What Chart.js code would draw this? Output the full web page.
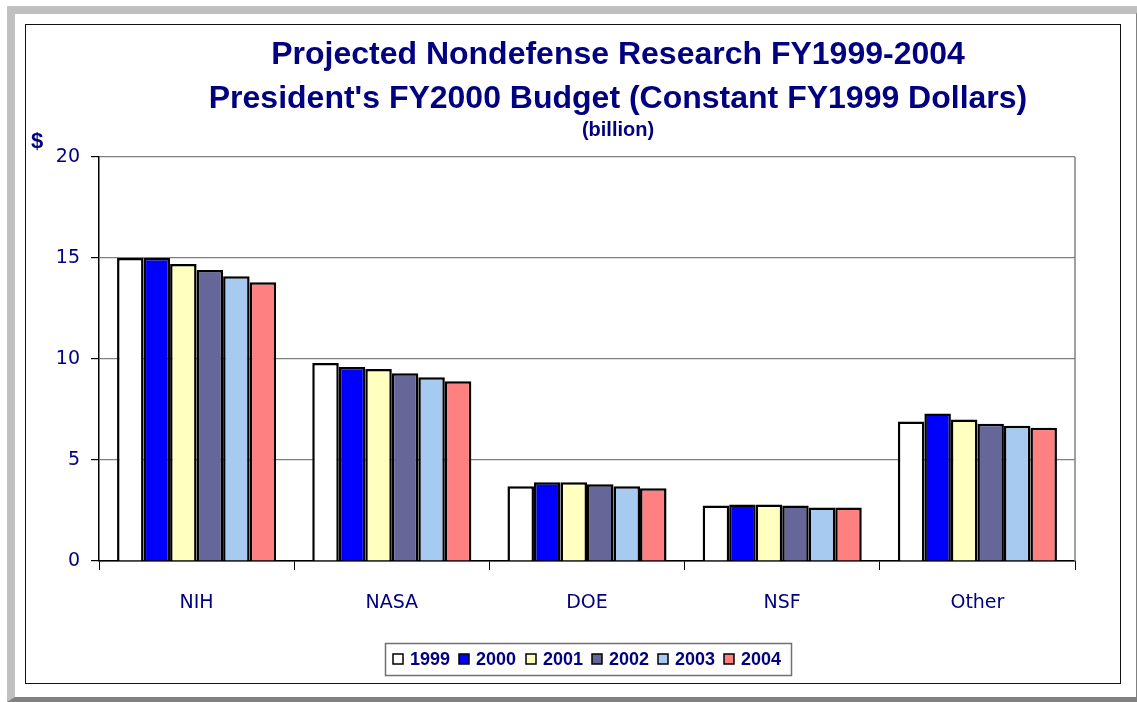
<!DOCTYPE html>
<html>
<head>
<meta charset="utf-8">
<script src="https://cdn.jsdelivr.net/npm/chart.js@4.4.1/dist/chart.umd.min.js"></script>
<style>
  html, body { margin: 0; padding: 0; background: #fff; }
  #outer {
    position: absolute; left: 7px; top: 6px; width: 1121px; height: 683px;
    border-top: 8px solid #c0c0c0; border-left: 8px solid #c0c0c0;
    border-right: 5px solid #808080; border-bottom: 5px solid #808080;
    background: #fff;
  }
  #inner {
    position: absolute; left: 25px; top: 24px; width: 1094px; height: 658px;
    border: 1.5px solid #111;
  }
  #wrap { position: absolute; left: 0; top: 0; width: 1137px; height: 702px; }
</style>
</head>
<body>
<div id="outer"></div>
<div id="inner"></div>
<div id="wrap"><canvas id="budgetChart" width="1137" height="702"></canvas></div>
<script>
// Projected nondefense research, $ billion (constant FY1999 dollars)
const agencies = ["NIH", "NASA", "DOE", "NSF", "Other"];
const years = ["1999", "2000", "2001", "2002", "2003", "2004"];
const fy1999 = [15.0, 9.8, 3.7, 2.75, 6.9];
const fy2000 = [15.0, 9.6, 3.9, 2.8, 7.3];
const fy2001 = [14.7, 9.5, 3.9, 2.8, 7.0];
const fy2002 = [14.4, 9.3, 3.8, 2.75, 6.8];
const fy2003 = [14.1, 9.1, 3.7, 2.65, 6.7];
const fy2004 = [13.8, 8.9, 3.6, 2.65, 6.6];
const yTicks = [0, 5, 10, 15, 20];

const seriesValues = [fy1999, fy2000, fy2001, fy2002, fy2003, fy2004];
const seriesColors = ["#FFFFFF", "#0000FF", "#FFFFC0", "#666699", "#A6CAF0", "#FF8080"];
const navy = "#000080";
const tickFont = { family: "'DejaVu Sans', Verdana, sans-serif", size: 19 };

// titles, plot border and boxed legend
const decorations = {
  id: "decorations",
  afterDraw(chart) {
    const ctx = chart.ctx;
    const area = chart.chartArea;
    ctx.save();

    // right side of the plot area
    ctx.strokeStyle = "#808080";
    ctx.lineWidth = 1.5;
    ctx.beginPath();
    ctx.moveTo(area.right, area.top);
    ctx.lineTo(area.right, area.bottom);
    ctx.stroke();

    ctx.fillStyle = navy;
    ctx.textAlign = "center";
    ctx.textBaseline = "alphabetic";
    ctx.font = "bold 32px 'Liberation Sans', Arial, sans-serif";
    ctx.fillText("Projected Nondefense Research FY1999-2004", 618, 64);
    ctx.fillText("President's FY2000 Budget (Constant FY1999 Dollars)", 618, 108);
    ctx.font = "bold 20px 'Liberation Sans', Arial, sans-serif";
    ctx.fillText("(billion)", 618, 136);
    ctx.font = "bold 22px 'Liberation Sans', Arial, sans-serif";
    ctx.textAlign = "left";
    ctx.fillText("$", 31, 148);

    // legend box
    ctx.strokeStyle = "#707070";
    ctx.lineWidth = 1.5;
    ctx.strokeRect(385.5, 643.5, 406, 32);
    const xs = [393, 459, 526, 592, 658, 724];
    ctx.font = "bold 18px 'Liberation Sans', Arial, sans-serif";
    ctx.textBaseline = "middle";
    years.forEach((yr, i) => {
      ctx.fillStyle = seriesColors[i];
      ctx.fillRect(xs[i], 654, 10, 10);
      ctx.strokeStyle = "#000";
      ctx.lineWidth = 1.5;
      ctx.strokeRect(xs[i], 654, 10, 10);
      ctx.fillStyle = navy;
      ctx.fillText(yr, xs[i] + 17, 660);
    });
    ctx.restore();
  }
};

new Chart(document.getElementById("budgetChart"), {
  type: "bar",
  data: {
    labels: agencies,
    datasets: years.map((yr, i) => ({
      label: yr,
      data: seriesValues[i],
      backgroundColor: seriesColors[i],
      borderColor: "#000000",
      borderWidth: 2.5,
      categoryPercentage: 0.815,
      barPercentage: 1.0,
    })),
  },
  options: {
    responsive: false,
    animation: false,
    layout: { padding: { left: 0, top: 157, right: 62, bottom: 0 } },
    plugins: {
      legend: { display: false },
      title: { display: false },
      tooltip: { enabled: false },
    },
    scales: {
      x: {
        grid: {
          display: true,
          drawOnChartArea: false,
          tickLength: 9,
          tickColor: "#000",
          offset: true,
        },
        border: { color: "#000", width: 1.5 },
        ticks: {
          color: navy,
          font: tickFont,
          padding: 22,
        },
        afterFit: function (scale) {
          scale.height = 141;
        },
      },
      y: {
        min: 0,
        max: 20,
        afterBuildTicks: function (scale) {
          scale.ticks = yTicks.map((v) => ({ value: v }));
        },
        grid: {
          color: function (context) {
            return context.tick && context.tick.value === 0 ? "#000" : "#808080";
          },
          lineWidth: 1.2,
          tickLength: 8,
          tickColor: "#000",
        },
        border: { color: "#000", width: 1.5 },
        ticks: {
          color: navy,
          font: tickFont,
          padding: 11,
        },
        afterFit: function (scale) {
          scale.width = 99;
        },
      },
    },
  },
  plugins: [decorations],
});
</script>
</body>
</html>
